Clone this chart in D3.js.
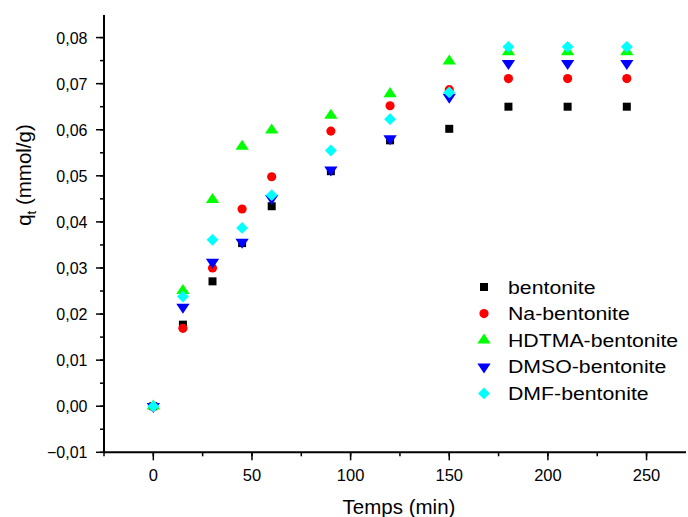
<!DOCTYPE html>
<html>
<head>
<meta charset="utf-8">
<script src="https://cdn.jsdelivr.net/npm/d3@7"></script>
<style>
  body { margin: 0; background: #fff; }
  text { font-family: "Liberation Sans", Arial, sans-serif; fill: #000; }
</style>
</head>
<body>
<div id="chart"></div>
<script>
var times = [0, 15, 30, 45, 60, 90, 120, 150, 180, 210, 240];
var bentonite = [0, 0.0177, 0.0271, 0.0354, 0.0434, 0.0510, 0.0577, 0.0602, 0.0650, 0.0650, 0.0650];
var naBentonite = [0, 0.0169, 0.0300, 0.0428, 0.0498, 0.0597, 0.0652, 0.0687, 0.0711, 0.0711, 0.0711];
var hdtmaBentonite = [0, 0.0251, 0.0448, 0.0564, 0.0599, 0.0631, 0.0678, 0.0749, 0.0769, 0.0769, 0.0769];
var dmsoBentonite = [0, 0.0215, 0.0313, 0.0356, 0.0451, 0.0513, 0.0581, 0.0671, 0.0744, 0.0744, 0.0744];
var dmfBentonite = [0, 0.0238, 0.0361, 0.0387, 0.0458, 0.0555, 0.0623, 0.0681, 0.0780, 0.0780, 0.0780];
var seriesNames = ["bentonite", "Na-bentonite", "HDTMA-bentonite", "DMSO-bentonite", "DMF-bentonite"];
var xTicks = [0, 50, 100, 150, 200, 250];
var yTicks = [-0.01, 0, 0.01, 0.02, 0.03, 0.04, 0.05, 0.06, 0.07, 0.08];

var series = [
  { name: seriesNames[0], values: bentonite, color: "#000000", shape: "square" },
  { name: seriesNames[1], values: naBentonite, color: "#ff0000", shape: "circle" },
  { name: seriesNames[2], values: hdtmaBentonite, color: "#00ff00", shape: "up" },
  { name: seriesNames[3], values: dmsoBentonite, color: "#0000ff", shape: "down" },
  { name: seriesNames[4], values: dmfBentonite, color: "#00ffff", shape: "diamond" }
];

var w = 688, h = 517;
var svg = d3.select("#chart").append("svg")
  .attr("width", w)
  .attr("height", h);

var x = d3.scaleLinear().domain([-25, 270]).range([104, 686]);
var y = d3.scaleLinear().domain([-0.01, 0.0849]).range([452.3, 15]);

var comma = function(v) { return d3.format(".2f")(v).replace(".", ","); };

// minor ticks
var xMinor = d3.range(-25, 270, 25);
var yMinor = d3.range(-0.01, 0.085, 0.005);

var gx = svg.append("g").attr("transform", "translate(0," + y.range()[0] + ")");
gx.append("line").attr("x1", x.range()[0]).attr("x2", x.range()[1])
  .attr("stroke", "#000").attr("stroke-width", 2);
gx.selectAll(".minor").data(xMinor).enter().append("line")
  .attr("x1", function(d) { return x(d); }).attr("x2", function(d) { return x(d); })
  .attr("y1", 0).attr("y2", 4).attr("stroke", "#000").attr("stroke-width", 1.5);
gx.selectAll(".major").data(xTicks).enter().append("line")
  .attr("x1", function(d) { return x(d); }).attr("x2", function(d) { return x(d); })
  .attr("y1", 0).attr("y2", 8).attr("stroke", "#000").attr("stroke-width", 1.5);
gx.selectAll("text").data(xTicks).enter().append("text")
  .attr("x", function(d) { return x(d); }).attr("y", 29)
  .attr("text-anchor", "middle").attr("font-size", 16.5)
  .text(function(d) { return d; });

var gy = svg.append("g").attr("transform", "translate(" + x.range()[0] + ",0)");
gy.append("line").attr("y1", y.range()[0]).attr("y2", y.range()[1])
  .attr("stroke", "#000").attr("stroke-width", 2);
gy.selectAll(".minor").data(yMinor).enter().append("line")
  .attr("y1", function(d) { return y(d); }).attr("y2", function(d) { return y(d); })
  .attr("x1", 0).attr("x2", -4).attr("stroke", "#000").attr("stroke-width", 1.5);
gy.selectAll(".major").data(yTicks).enter().append("line")
  .attr("y1", function(d) { return y(d); }).attr("y2", function(d) { return y(d); })
  .attr("x1", 0).attr("x2", -8).attr("stroke", "#000").attr("stroke-width", 1.5);
gy.selectAll("text").data(yTicks).enter().append("text")
  .attr("x", -16.5).attr("y", function(d) { return y(d) + 6; })
  .attr("text-anchor", "end").attr("font-size", 16)
  .text(function(d) { return comma(d); });

// axis titles
svg.append("text")
  .attr("x", 399).attr("y", 514)
  .attr("text-anchor", "middle").attr("font-size", 20.5)
  .text("Temps (min)");

var yTitle = svg.append("text")
  .attr("transform", "translate(31,175) rotate(-90)")
  .attr("text-anchor", "middle").attr("font-size", 20.5);
yTitle.append("tspan").text("q");
yTitle.append("tspan").attr("font-size", 13).attr("dy", 5).text("t");
yTitle.append("tspan").attr("dy", -5).text(" (mmol/g)");

var symbolFor = {
  square: d3.symbol().type(d3.symbolSquare).size(64),
  circle: d3.symbol().type(d3.symbolCircle).size(66),
  up: d3.symbol().type(d3.symbolTriangle).size(58),
  down: d3.symbol().type(d3.symbolTriangle).size(58),
  diamond: d3.symbol().type(d3.symbolSquare).size(70)
};

function placeSymbol(sel, shape, px, py) {
  var extra = "";
  if (shape === "down") extra = " rotate(180) scale(1.15,1)";
  if (shape === "up") extra = " scale(1.15,1)";
  if (shape === "diamond") extra = " rotate(45)";
  sel.attr("transform", "translate(" + px + "," + py + ")" + extra);
}

series.forEach(function(s) {
  svg.append("g").selectAll("path").data(s.values).enter().append("path")
    .attr("d", symbolFor[s.shape]())
    .attr("fill", s.color)
    .each(function(d, i) { placeSymbol(d3.select(this), s.shape, x(times[i]), y(d)); });
});

// legend
var legend = svg.append("g");
series.forEach(function(s, i) {
  var ly = 287 + i * 26.6;
  var p = legend.append("path").attr("d", symbolFor[s.shape]()).attr("fill", s.color);
  placeSymbol(p, s.shape, 484, ly);
  legend.append("text")
    .attr("transform", "translate(508," + (ly + 6.5) + ") scale(1.15,1)")
    .attr("font-size", 18.5).text(s.name);
});
</script>
</body>
</html>
